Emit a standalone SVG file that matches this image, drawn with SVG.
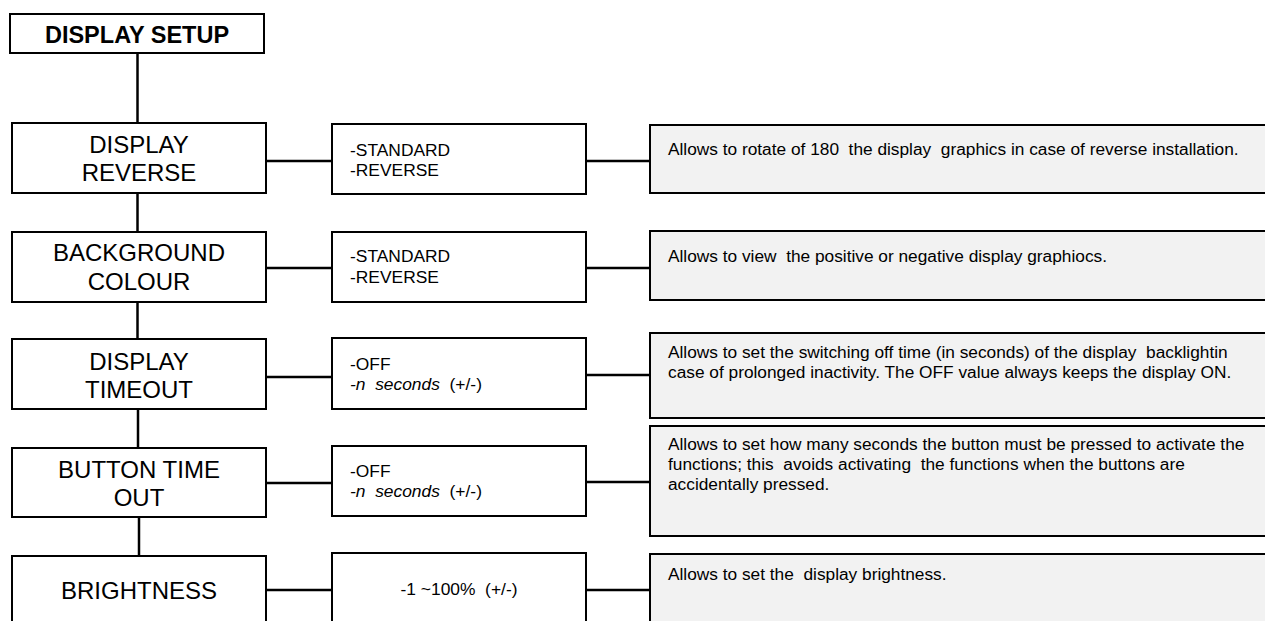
<svg xmlns="http://www.w3.org/2000/svg" width="1265" height="621" viewBox="0 0 1265 621">
<style>
text{font-family:"Liberation Sans",Arial,sans-serif;fill:#000;white-space:pre}
.box{fill:#fff;stroke:#000;stroke-width:2}
.desc{fill:#f2f2f2;stroke:#000;stroke-width:2}
.node{font-size:24px;text-anchor:middle}
.title{font-size:23.5px;font-weight:bold;text-anchor:middle}
.opt{font-size:17.4px}
.d{font-size:17.3px}
.conn line{stroke:#000;stroke-width:2.5}
</style>
<rect width="1265" height="621" fill="#fff"/>
<g class="conn">
<line x1="137.5" y1="53" x2="137.5" y2="123"/>
<line x1="137.5" y1="193" x2="137.5" y2="232"/>
<line x1="137.5" y1="302" x2="137.5" y2="339"/>
<line x1="138" y1="409" x2="138" y2="448"/>
<line x1="139" y1="517" x2="139" y2="556"/>
<line x1="266" y1="161" x2="332" y2="161"/>
<line x1="266" y1="268" x2="332" y2="268"/>
<line x1="266" y1="377" x2="332" y2="377"/>
<line x1="266" y1="483" x2="332" y2="483"/>
<line x1="266" y1="590" x2="332" y2="590"/>
<line x1="586" y1="161" x2="650" y2="161"/>
<line x1="586" y1="268" x2="650" y2="268"/>
<line x1="586" y1="375" x2="650" y2="375"/>
<line x1="586" y1="482" x2="650" y2="482"/>
<line x1="586" y1="590" x2="650" y2="590"/>
</g>
<g id="title"><rect class="box" x="10" y="14" width="254" height="39"/><text class="title" x="137" y="42.5">DISPLAY SETUP</text></g>
<g id="n1"><rect class="box" x="12" y="123" width="254" height="70"/><text class="node" x="139" y="153">DISPLAY</text><text class="node" x="139" y="181">REVERSE</text></g>
<g id="n2"><rect class="box" x="12" y="232" width="254" height="70"/><text class="node" x="139" y="261">BACKGROUND</text><text class="node" x="139" y="289.5">COLOUR</text></g>
<g id="n3"><rect class="box" x="12" y="339" width="254" height="70"/><text class="node" x="139" y="369.5">DISPLAY</text><text class="node" x="139" y="398">TIMEOUT</text></g>
<g id="n4"><rect class="box" x="12" y="448" width="254" height="69"/><text class="node" x="139" y="477.5">BUTTON TIME</text><text class="node" x="139" y="506">OUT</text></g>
<g id="n5"><rect class="box" x="12" y="556" width="254" height="70"/><text class="node" x="139" y="598.5">BRIGHTNESS</text></g>
<g id="o1"><rect class="box" x="332" y="124" width="254" height="70"/><text class="opt" x="350" y="156">-STANDARD</text><text class="opt" x="350" y="176">-REVERSE</text></g>
<g id="o2"><rect class="box" x="332" y="232" width="254" height="70"/><text class="opt" x="350" y="262">-STANDARD</text><text class="opt" x="350" y="283">-REVERSE</text></g>
<g id="o3"><rect class="box" x="332" y="338" width="254" height="71"/><text class="opt" x="350" y="370">-OFF</text><text class="opt" x="350" y="390"><tspan font-style="italic">-n  seconds</tspan>  (+/-)</text></g>
<g id="o4"><rect class="box" x="332" y="446" width="254" height="70"/><text class="opt" x="350" y="477">-OFF</text><text class="opt" x="350" y="497"><tspan font-style="italic">-n  seconds</tspan>  (+/-)</text></g>
<g id="o5"><rect class="box" x="332" y="553" width="254" height="70"/><text class="opt" x="459" y="595" text-anchor="middle">-1 ~100%  (+/-)</text></g>
<g id="d1"><rect class="desc" x="650" y="125" width="620" height="68"/><text class="d" x="668" y="155">Allows to rotate of 180  the display  graphics in case of reverse installation.</text></g>
<g id="d2"><rect class="desc" x="650" y="231" width="620" height="69"/><text class="d" x="668" y="262">Allows to view  the positive or negative display graphiocs.</text></g>
<g id="d3"><rect class="desc" x="650" y="333" width="620" height="85"/><text class="d" x="668" y="358">Allows to set the switching off time (in seconds) of the display  backlightin</text><text class="d" x="668" y="378">case of prolonged inactivity. The OFF value always keeps the display ON.</text></g>
<g id="d4"><rect class="desc" x="650" y="426" width="620" height="110"/><text class="d" x="668" y="450">Allows to set how many seconds the button must be pressed to activate the</text><text class="d" x="668" y="470">functions; this  avoids activating  the functions when the buttons are</text><text class="d" x="668" y="490">accidentally pressed.</text></g>
<g id="d5"><rect class="desc" x="650" y="554" width="620" height="70"/><text class="d" x="668" y="580">Allows to set the  display brightness.</text></g>
</svg>
